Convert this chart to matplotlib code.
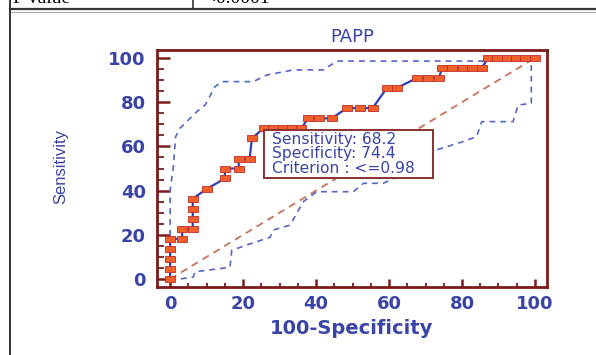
import matplotlib
matplotlib.use('Agg')
import matplotlib.pyplot as plt
from matplotlib.lines import Line2D
from matplotlib.patches import Rectangle
from matplotlib.ticker import MultipleLocator

# ROC curve (100-Specificity, Sensitivity)
roc_x = [0, 0, 0, 0, 0, 3.3, 3.3, 6.2, 6.2, 6.2, 6.2, 10.2, 15, 15, 18.8, 18.8,
         21.8, 22.4, 25.6, 28.2, 30.8, 33.3, 36, 37.8, 40.8, 44.3, 48.4, 52, 55.5,
         59.4, 62.1, 67.6, 70.8, 73.7, 74.5, 77.2, 80.3, 82.8, 85.4, 87.2, 89.7,
         92.3, 94.9, 97.4, 100]
roc_y = [0, 4.5, 9.1, 13.6, 18.2, 18.2, 22.7, 22.7, 27.3, 31.8, 36.4, 40.9, 45.5,
         50, 50, 54.5, 54.5, 63.6, 68.2, 68.2, 68.2, 68.2, 68.2, 72.7, 72.7, 72.7,
         77.3, 77.3, 77.3, 86.4, 86.4, 90.9, 90.9, 90.9, 95.5, 95.5, 95.5, 95.5,
         95.5, 100, 100, 100, 100, 100, 100]

# 95% confidence bounds
upper_x = [0, 0, 0.9, 1.5, 2.7, 7.3, 9.6, 12.3, 14.2, 22.8, 26.5, 33.8, 42, 45.7, 86, 88, 100]
upper_y = [0, 40, 51, 64.4, 68.2, 75.7, 78.7, 87, 89.3, 89.3, 92.3, 94.6, 94.6, 98.6, 98.6, 100, 100]
lower_x = [0, 2.7, 6.4, 6.8, 16.4, 16.9, 21, 27.4, 28.3, 32.9, 36.5, 40.2, 50.2, 53,
           58.4, 62, 66, 70, 73, 80, 84, 85.4, 94, 95.4, 99, 99, 100]
lower_y = [0, 0, 1, 3.3, 5.3, 13, 15.4, 18.9, 22.2, 24.4, 35, 39.5, 39.5, 43.3,
           43.3, 46, 52, 57, 58.4, 62, 64.4, 71.2, 71.2, 78.7, 79.5, 100, 100]

sens, spec, crit = 68.2, 74.4, '<=0.98'

blue_txt = '#3a44a6'
maroon = '#7b1c1c'

fig = plt.figure(figsize=(5.96, 3.55), dpi=100)
ax = fig.add_axes([157 / 596, 68 / 355, 390 / 596, 237 / 355])

ax.plot([0, 100], [0, 100], color='#c8705a', lw=1.3, ls=(0, (4, 3)))
ax.plot(upper_x, upper_y, color='#5565c8', lw=1.2, ls=(0, (3.5, 3)))
ax.plot(lower_x, lower_y, color='#5565c8', lw=1.2, ls=(0, (3.5, 3)))

rect_marker = [(-1.4, -1), (1.4, -1), (1.4, 1), (-1.4, 1), (-1.4, -1)]
ax.plot(roc_x, roc_y, color='#2e3fb8', lw=1.6, marker=rect_marker, markersize=7,
        markerfacecolor='#f0602a', markeredgecolor='#c0302a', markeredgewidth=0.6)

# info box anchored at criterion point
ax.add_patch(Rectangle((100 - spec, 45.7), 72 - (100 - spec), 67.4 - 45.7,
                       facecolor='white', edgecolor='#8a3030', lw=1.4, zorder=5))
lines = ['Sensitivity: %.1f' % sens, 'Specificity: %.1f' % spec, 'Criterion : ' + crit]
for i, t in enumerate(lines):
    ax.text(27.9, 63.3 - i * 6.6, t, color=blue_txt, fontsize=11.2,
            va='center', ha='left', zorder=6)

ax.set_xlim(-3.6, 103.3)
ax.set_ylim(-3.6, 103.6)
ax.xaxis.set_major_locator(MultipleLocator(20))
ax.yaxis.set_major_locator(MultipleLocator(20))
ax.xaxis.set_minor_locator(MultipleLocator(5))
ax.yaxis.set_minor_locator(MultipleLocator(5))
for s in ax.spines.values():
    s.set_color(maroon)
    s.set_linewidth(2)
ax.tick_params(axis='both', which='both', direction='in', color=maroon,
               labelcolor=blue_txt, top=False, right=False)
ax.tick_params(axis='y', which='major', length=9.5, width=1.8, pad=8)
ax.tick_params(axis='y', which='minor', length=5, width=1.3)
ax.tick_params(axis='x', which='major', length=6, width=1.8, pad=6)
ax.tick_params(axis='x', which='minor', length=3, width=1.3)
for lab in ax.get_xticklabels() + ax.get_yticklabels():
    lab.set_fontsize(13)
    lab.set_fontweight('bold')

ax.set_title('PAPP', color=blue_txt, fontsize=13, pad=6)
ax.set_xlabel('100-Specificity', color=blue_txt, fontsize=14, fontweight='bold', labelpad=4)
fig.text(61 / 596, 1 - 167 / 355, 'Sensitivity', rotation=90, color=blue_txt,
         fontsize=12, ha='center', va='center', family='Liberation Sans')

# surrounding table lines
fig.add_artist(Line2D([10 / 596, 1], [1 - 9 / 355] * 2, color='#333333', lw=1.6))
fig.add_artist(Line2D([10 / 596, 1], [1 - 11.5 / 355] * 2, color='#aaaaaa', lw=0.8))
fig.add_artist(Line2D([10 / 596] * 2, [0, 1], color='#333333', lw=1.4))
fig.add_artist(Line2D([193 / 596] * 2, [1 - 9 / 355, 1], color='#333333', lw=1.2))
fig.text(13 / 596, 1 - 3 / 355, 'P value', family='Liberation Serif', fontsize=14, va='baseline')
fig.text(205 / 596, 1 - 3 / 355, '<0.0001', family='Liberation Serif', fontsize=14, va='baseline')

fig.savefig('out.png', dpi=100)
